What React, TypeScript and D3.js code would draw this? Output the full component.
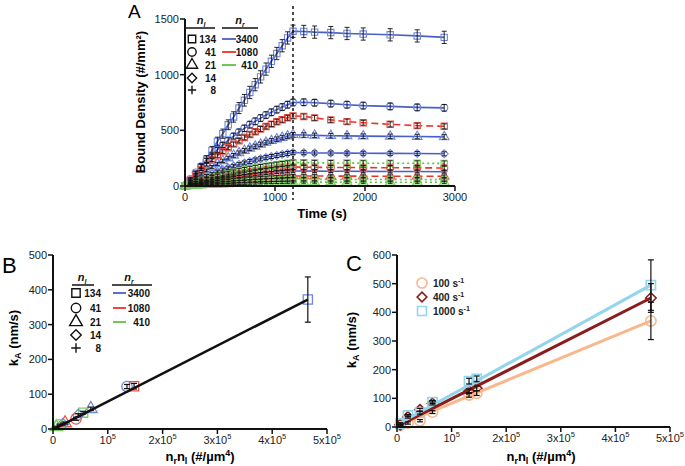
import React from 'react';
import * as d3 from 'd3';

const FONT = "'Liberation Sans', Arial, Helvetica, sans-serif";

// ---------- Panel A data ----------
const aTime = [0, 60, 120, 180, 240, 300, 360, 420, 480, 540, 600, 660, 720, 780, 840, 900, 960, 1020, 1080, 1140, 1200, 1320, 1440, 1620, 1800, 1980, 2280, 2580, 2880];
const aSq3400 = [0, 40, 100, 170, 240, 320, 400, 470, 550, 620, 700, 770, 840, 910, 980, 1050, 1120, 1190, 1260, 1330, 1390, 1388, 1382, 1378, 1370, 1365, 1358, 1348, 1335];
const aCi3400 = [0, 62, 121, 177, 229, 278, 324, 368, 409, 448, 484, 518, 551, 581, 610, 637, 662, 686, 709, 730, 750, 752, 748, 740, 730, 722, 715, 706, 702];
const aTr3400 = [0, 38, 74, 108, 140, 171, 199, 226, 251, 275, 297, 318, 338, 356, 374, 391, 406, 421, 435, 448, 460, 458, 455, 452, 450, 448, 446, 444, 441];
const aDi3400 = [0, 25, 49, 71, 92, 111, 130, 147, 164, 179, 194, 207, 220, 233, 244, 255, 265, 274, 284, 292, 300, 299, 297, 296, 295, 294, 293, 292, 289];
const aPl3400 = [0, 11, 22, 32, 41, 50, 58, 66, 74, 81, 87, 93, 99, 105, 110, 115, 119, 124, 128, 131, 135, 135, 134, 133, 132, 131, 130, 130, 128];
const aSq1080 = [0, 52, 102, 148, 192, 234, 273, 309, 344, 376, 407, 436, 463, 488, 512, 535, 556, 577, 595, 613, 630, 625, 612, 594, 578, 568, 554, 542, 536];
const aCi1080 = [0, 14, 28, 40, 52, 63, 74, 83, 93, 102, 110, 118, 125, 132, 138, 144, 150, 156, 161, 165, 170, 169, 168, 167, 166, 165, 164, 163, 162];
const aTr1080 = [0, 7, 15, 21, 27, 33, 39, 44, 49, 54, 58, 62, 66, 70, 73, 76, 79, 82, 85, 88, 90, 90, 90, 89, 89, 88, 88, 88, 87];
const aSq410 = [0, 17, 34, 49, 64, 78, 91, 103, 115, 125, 136, 145, 154, 163, 171, 178, 185, 192, 198, 204, 210, 209, 208, 207, 206, 205, 205, 204, 203];
const aCi410 = [0, 5, 10, 14, 18, 22, 26, 29, 33, 36, 39, 41, 44, 47, 49, 51, 53, 55, 57, 58, 60, 60, 60, 59, 59, 58, 58, 58, 57];
const aTr410 = [0, 3, 6, 8, 11, 13, 15, 17, 19, 21, 23, 24, 26, 27, 29, 30, 31, 32, 33, 34, 35, 35, 35, 35, 34, 34, 34, 34, 34];
const aErrors = [55, 30, 20, 18, 12, 22, 18, 12, 22, 14, 10];
const aDashTime = 1200;
const aXTicks = [0, 1000, 2000, 3000];
const aYTicks = [0, 500, 1000, 1500];

// legend labels
const nlLabels = ['134', '41', '21', '14', '8'];
const nlShapes = ['square', 'circle', 'triangle', 'diamond', 'plus'];
const nrLabels = ['3400', '1080', '410'];

// ---------- Panel B data ----------
const bX = [465000, 135000, 148000, 69000, 55000, 46000, 42000, 22000, 18000, 12000, 6000];
const bY = [372, 122, 123, 58, 47, 40, 29, 17, 14, 12, 6];
const bErr = [65, 6, 8, 5, 4, 4, 4, 3, 3, 2, 2];
const bShape = ['square', 'circle', 'square', 'triangle', 'square', 'diamond', 'circle', 'triangle', 'diamond', 'circle', 'triangle'];
const bNr = ['3400', '3400', '1080', '3400', '410', '3400', '1080', '1080', '3400', '410', '410'];
const bFitX = [4000, 465000];
const bFitY = [2, 372];
const bXTicks = [0, 100000, 200000, 300000, 400000, 500000];
const bYTicks = [0, 100, 200, 300, 400, 500];

// ---------- Panel C data ----------
const cX = [6000, 20000, 42000, 65000, 132000, 146000, 465000];
const c100 = [6, 14, 22, 52, 112, 118, 370];
const c400 = [8, 35, 60, 82, 125, 135, 450];
const c1000 = [12, 40, 50, 87, 160, 168, 495];
const c100Err = [3, 4, 4, 5, 8, 8, 65];
const c400Err = [3, 4, 5, 5, 8, 8, 50];
const c1000Err = [3, 4, 5, 5, 10, 10, 88];
const cFitX = [0, 465000];
const c100Fit = [4, 370];
const c400Fit = [2, 450];
const c1000Fit = [8, 495];
const cShearLabels = ['100', '400', '1000'];
const cXTicks = [0, 100000, 200000, 300000, 400000, 500000];
const cYTicks = [0, 100, 200, 300, 400, 500, 600];

// ---------- styles ----------
const nrLine: Record<string, string> = { '3400': '#4a5fc4', '1080': '#e8342b', '410': '#62c041' };
const nrMark: Record<string, string> = { '3400': '#6f86e0', '1080': '#ee5246', '410': '#7bcc5c' };
const nrDash: Record<string, string | undefined> = { '3400': undefined, '1080': '7,4', '410': '2,3' };
const cColors = ['#f8b88c', '#8a1c1c', '#92d5ec'];
const cShapes = ['circle', 'diamond', 'square'];

const A_SERIES = [
  { v: aSq3400, shape: 'square', nr: '3400' },
  { v: aCi3400, shape: 'circle', nr: '3400' },
  { v: aTr3400, shape: 'triangle', nr: '3400' },
  { v: aDi3400, shape: 'diamond', nr: '3400' },
  { v: aPl3400, shape: 'plus', nr: '3400' },
  { v: aSq1080, shape: 'square', nr: '1080' },
  { v: aCi1080, shape: 'circle', nr: '1080' },
  { v: aTr1080, shape: 'triangle', nr: '1080' },
  { v: aSq410, shape: 'square', nr: '410' },
  { v: aCi410, shape: 'circle', nr: '410' },
  { v: aTr410, shape: 'triangle', nr: '410' },
];

function symPath(shape: string, size: number): string {
  const d3any: any = d3;
  const map: Record<string, any> = {
    square: d3.symbolSquare,
    circle: d3.symbolCircle,
    triangle: d3.symbolTriangle,
    diamond: d3any.symbolDiamond2 || d3.symbolDiamond,
    plus: d3any.symbolPlus || d3.symbolCross,
  };
  return d3.symbol(map[shape], size)() || '';
}

function Marker({ x, y, shape, size, stroke, sw = 1.2 }: any) {
  return <path d={symPath(shape, size)} transform={`translate(${x},${y})`} fill="none" stroke={stroke} strokeWidth={sw} />;
}

function ErrBar({ x, y1, y2, cap = 3, sw = 1 }: any) {
  return (
    <g stroke="#111" strokeWidth={sw}>
      <line x1={x} x2={x} y1={y1} y2={y2} />
      <line x1={x - cap} x2={x + cap} y1={y1} y2={y1} />
      <line x1={x - cap} x2={x + cap} y1={y2} y2={y2} />
    </g>
  );
}

function pow10Label(v: number) {
  if (v === 0) return <tspan>0</tspan>;
  const m = v / 100000;
  return (
    <>
      <tspan>{(m === 1 ? '' : m + 'x') + '10'}</tspan>
      <tspan dy={-5} fontSize={7.5}>5</tspan>
    </>
  );
}

function Axes({ x, y, xTicks, yTicks, xFmt, yFmt, fs = 11 }: any) {
  const [x0, x1] = x.range();
  const [y0, y1] = y.range();
  return (
    <g fontFamily={FONT} fontSize={fs} fill="#222">
      <line x1={x0} x2={x0} y1={y0 + 1} y2={y1} stroke="#111" strokeWidth={2} />
      <line x1={x0 - 1} x2={x1} y1={y0} y2={y0} stroke="#111" strokeWidth={2} />
      {yTicks.map((t: number) => (
        <g key={'y' + t}>
          <line x1={x0 - 5} x2={x0} y1={y(t)} y2={y(t)} stroke="#111" strokeWidth={1.5} />
          <text x={x0 - 6} y={y(t) + 4} textAnchor="end">{yFmt(t)}</text>
        </g>
      ))}
      {xTicks.map((t: number) => (
        <g key={'x' + t}>
          <line x1={x(t)} x2={x(t)} y1={y0} y2={y0 + 5} stroke="#111" strokeWidth={1.5} />
          <text x={x(t)} y={y0 + 15} textAnchor="middle">{xFmt(t)}</text>
        </g>
      ))}
    </g>
  );
}

function NLegend({ mx, hy, rowYs, cfg, fs }: any) {
  return (
    <g fontFamily={FONT} fontSize={fs} fontWeight="bold" fill="#111">
      <text x={mx + cfg.nlH} y={hy} textAnchor="middle" fontStyle="italic" fontSize={fs + 1}>
        n<tspan dy={3} fontSize={fs - 3}>l</tspan>
      </text>
      <line x1={mx + cfg.u1a} x2={mx + cfg.u1b} y1={hy + 4} y2={hy + 4} stroke="#111" strokeWidth={1.5} />
      <text x={mx + cfg.nrH} y={hy} textAnchor="middle" fontStyle="italic" fontSize={fs + 1}>
        n<tspan dy={3} fontSize={fs - 3}>r</tspan>
      </text>
      <line x1={mx + cfg.u2a} x2={mx + cfg.u2b} y1={hy + 4} y2={hy + 4} stroke="#111" strokeWidth={1.5} />
      {nlLabels.map((l, i) => (
        <g key={'nl' + l}>
          <Marker x={mx} y={rowYs[i]} shape={nlShapes[i]} size={nlShapes[i] === 'plus' ? cfg.ms * 0.45 : cfg.ms} stroke="#111" sw={1.4} />
          <text x={mx + cfg.n1} y={rowYs[i] + 4} textAnchor="end" fill="#111">{l}</text>
        </g>
      ))}
      {nrLabels.map((l, i) => (
        <g key={'nr' + l}>
          <line x1={mx + cfg.la} x2={mx + cfg.lb} y1={rowYs[i]} y2={rowYs[i]} stroke={nrLine[l]} strokeWidth={1.8} />
          <text x={mx + cfg.n2} y={rowYs[i] + 4} textAnchor="end" fill="#111">{l}</text>
        </g>
      ))}
    </g>
  );
}

function PanelA() {
  const x = d3.scaleLinear().domain([0, 3000]).range([185, 455]);
  const y = d3.scaleLinear().domain([0, 1500]).range([186, 19]);
  const line = d3.line<number>().x((_, i) => x(aTime[i])).y((d) => y(d));
  return (
    <g>
      {A_SERIES.map((s, k) => (
        <path key={'l' + k} d={line(s.v) || ''} fill="none" stroke={nrLine[s.nr]} strokeWidth={1.6} strokeDasharray={nrDash[s.nr]} />
      ))}
      {A_SERIES.map((s, k) => (
        <g key={'m' + k}>
          {s.v.map((v, i) => (
            <Marker key={i} x={x(aTime[i])} y={y(v)} shape={s.shape} size={s.shape === 'plus' ? 20 : 40} stroke={nrMark[s.nr]} sw={1.1} />
          ))}
        </g>
      ))}
      {A_SERIES.map((s, k) => (
        <g key={'e' + k}>
          {s.v.map((v, i) =>
            i === 0 ? null : (
              <ErrBar key={i} x={x(aTime[i])} y1={y(v + aErrors[k] * Math.min(1, 0.4 + i / 20))} y2={y(v - aErrors[k] * Math.min(1, 0.4 + i / 20))} cap={2.5} sw={0.9} />
            )
          )}
        </g>
      ))}
      <line x1={x(aDashTime)} x2={x(aDashTime)} y1={6} y2={200} stroke="#111" strokeWidth={1.5} strokeDasharray="3,3" />
      <Axes x={x} y={y} xTicks={aXTicks} yTicks={aYTicks} xFmt={(t: number) => String(t)} yFmt={(t: number) => String(t)} fs={11} />
      <NLegend mx={192} hy={24} rowYs={[39, 52, 65, 78, 90]} fs={10}
        cfg={{ nlH: 9, u1a: -6, u1b: 23, nrH: 48, u2a: 30, u2b: 66, n1: 24, la: 30, lb: 44, n2: 66, ms: 55 }} />
      <text x={128} y={18} fontFamily={FONT} fontSize={19}>A</text>
      <text transform="translate(145,102) rotate(-90)" textAnchor="middle" fontFamily={FONT} fontSize={13} fontWeight="bold">Bound Density (#/mm²)</text>
      <text x={322} y={218} textAnchor="middle" fontFamily={FONT} fontSize={13} fontWeight="bold">Time (s)</text>
    </g>
  );
}

function XLabel({ x, y }: any) {
  return (
    <text x={x} y={y} textAnchor="middle" fontFamily={FONT} fontSize={13} fontWeight="bold">
      n<tspan dy={3} fontSize={9}>r</tspan><tspan dy={-3}>n</tspan><tspan dy={3} fontSize={9}>l</tspan>
      <tspan dy={-3}> (#/µm</tspan><tspan dy={-5} fontSize={9}>4</tspan><tspan dy={5}>)</tspan>
    </text>
  );
}

function YLabel({ x, y }: any) {
  return (
    <text transform={`translate(${x},${y}) rotate(-90)`} textAnchor="middle" fontFamily={FONT} fontSize={13} fontWeight="bold">
      k<tspan dy={3} fontSize={9}>A</tspan><tspan dy={-3}> (nm/s)</tspan>
    </text>
  );
}

function PanelB() {
  const x = d3.scaleLinear().domain([0, 500000]).range([53, 327]);
  const y = d3.scaleLinear().domain([0, 500]).range([429, 255]);
  return (
    <g>
      {bX.map((v, i) => (
        <Marker key={'m' + i} x={x(v)} y={y(bY[i])} shape={bShape[i]} size={bShape[i] === 'triangle' ? 70 : 85} stroke={nrMark[bNr[i]]} sw={1.3} />
      ))}
      <line x1={x(bFitX[0])} x2={x(bFitX[1])} y1={y(bFitY[0])} y2={y(bFitY[1])} stroke="#111" strokeWidth={2.5} />
      {bX.map((v, i) => (
        <ErrBar key={'e' + i} x={x(v)} y1={y(bY[i] + bErr[i])} y2={y(bY[i] - bErr[i])} cap={3} sw={1.2} />
      ))}
      <Axes x={x} y={y} xTicks={bXTicks} yTicks={bYTicks} xFmt={pow10Label} yFmt={(t: number) => String(t)} fs={11} />
      <NLegend mx={76} hy={281} rowYs={[293, 308, 322, 335, 348]} fs={10}
        cfg={{ nlH: 6, u1a: -4, u1b: 18, nrH: 53, u2a: 36, u2b: 76, n1: 25, la: 37, lb: 50, n2: 74, ms: 70 }} />
      <text x={2} y={273} fontFamily={FONT} fontSize={22}>B</text>
      <YLabel x={18} y={338} />
      <XLabel x={200} y={461} />
    </g>
  );
}

function PanelC() {
  const x = d3.scaleLinear().domain([0, 500000]).range([397, 670]);
  const y = d3.scaleLinear().domain([0, 600]).range([427, 255]);
  const sets = [c100, c400, c1000];
  const errs = [c100Err, c400Err, c1000Err];
  const fits = [c100Fit, c400Fit, c1000Fit];
  return (
    <g>
      {sets.map((s, k) => (
        <g key={'m' + k}>
          {s.map((v, i) => (
            <Marker key={i} x={x(cX[i])} y={y(v)} shape={cShapes[k]} size={k === 1 ? 70 : 85} stroke={cColors[k]} sw={1.6} />
          ))}
        </g>
      ))}
      {fits.map((f, k) => (
        <line key={'f' + k} x1={x(cFitX[0])} x2={x(cFitX[1])} y1={y(f[0])} y2={y(f[1])} stroke={cColors[k]} strokeWidth={3} />
      ))}
      {sets.map((s, k) => (
        <g key={'e' + k}>
          {s.map((v, i) => (
            <ErrBar key={i} x={x(cX[i])} y1={y(v + errs[k][i])} y2={y(v - errs[k][i])} cap={3} sw={1.2} />
          ))}
        </g>
      ))}
      <Axes x={x} y={y} xTicks={cXTicks} yTicks={cYTicks} xFmt={pow10Label} yFmt={(t: number) => String(t)} fs={11} />
      <g fontFamily={FONT} fontSize={10} fontWeight="bold" fill="#222">
        {cShearLabels.map((l, k) => (
          <g key={l}>
            <Marker x={422} y={283 + k * 14} shape={cShapes[k]} size={k === 1 ? 60 : 80} stroke={cColors[k]} sw={1.6} />
            <text x={433} y={287 + k * 14}>
              {l} s<tspan dy={-4} fontSize={7}>-1</tspan>
            </text>
          </g>
        ))}
      </g>
      <text x={346} y={271} fontFamily={FONT} fontSize={22}>C</text>
      <YLabel x={356} y={340} />
      <XLabel x={541} y={461} />
    </g>
  );
}

export default function App() {
  return (
    <svg width={685} height={466} style={{ position: 'absolute', left: 0, top: 0, background: '#fff' }}>
      <rect width={685} height={466} fill="#fff" />
      <PanelA />
      <PanelB />
      <PanelC />
    </svg>
  );
}
